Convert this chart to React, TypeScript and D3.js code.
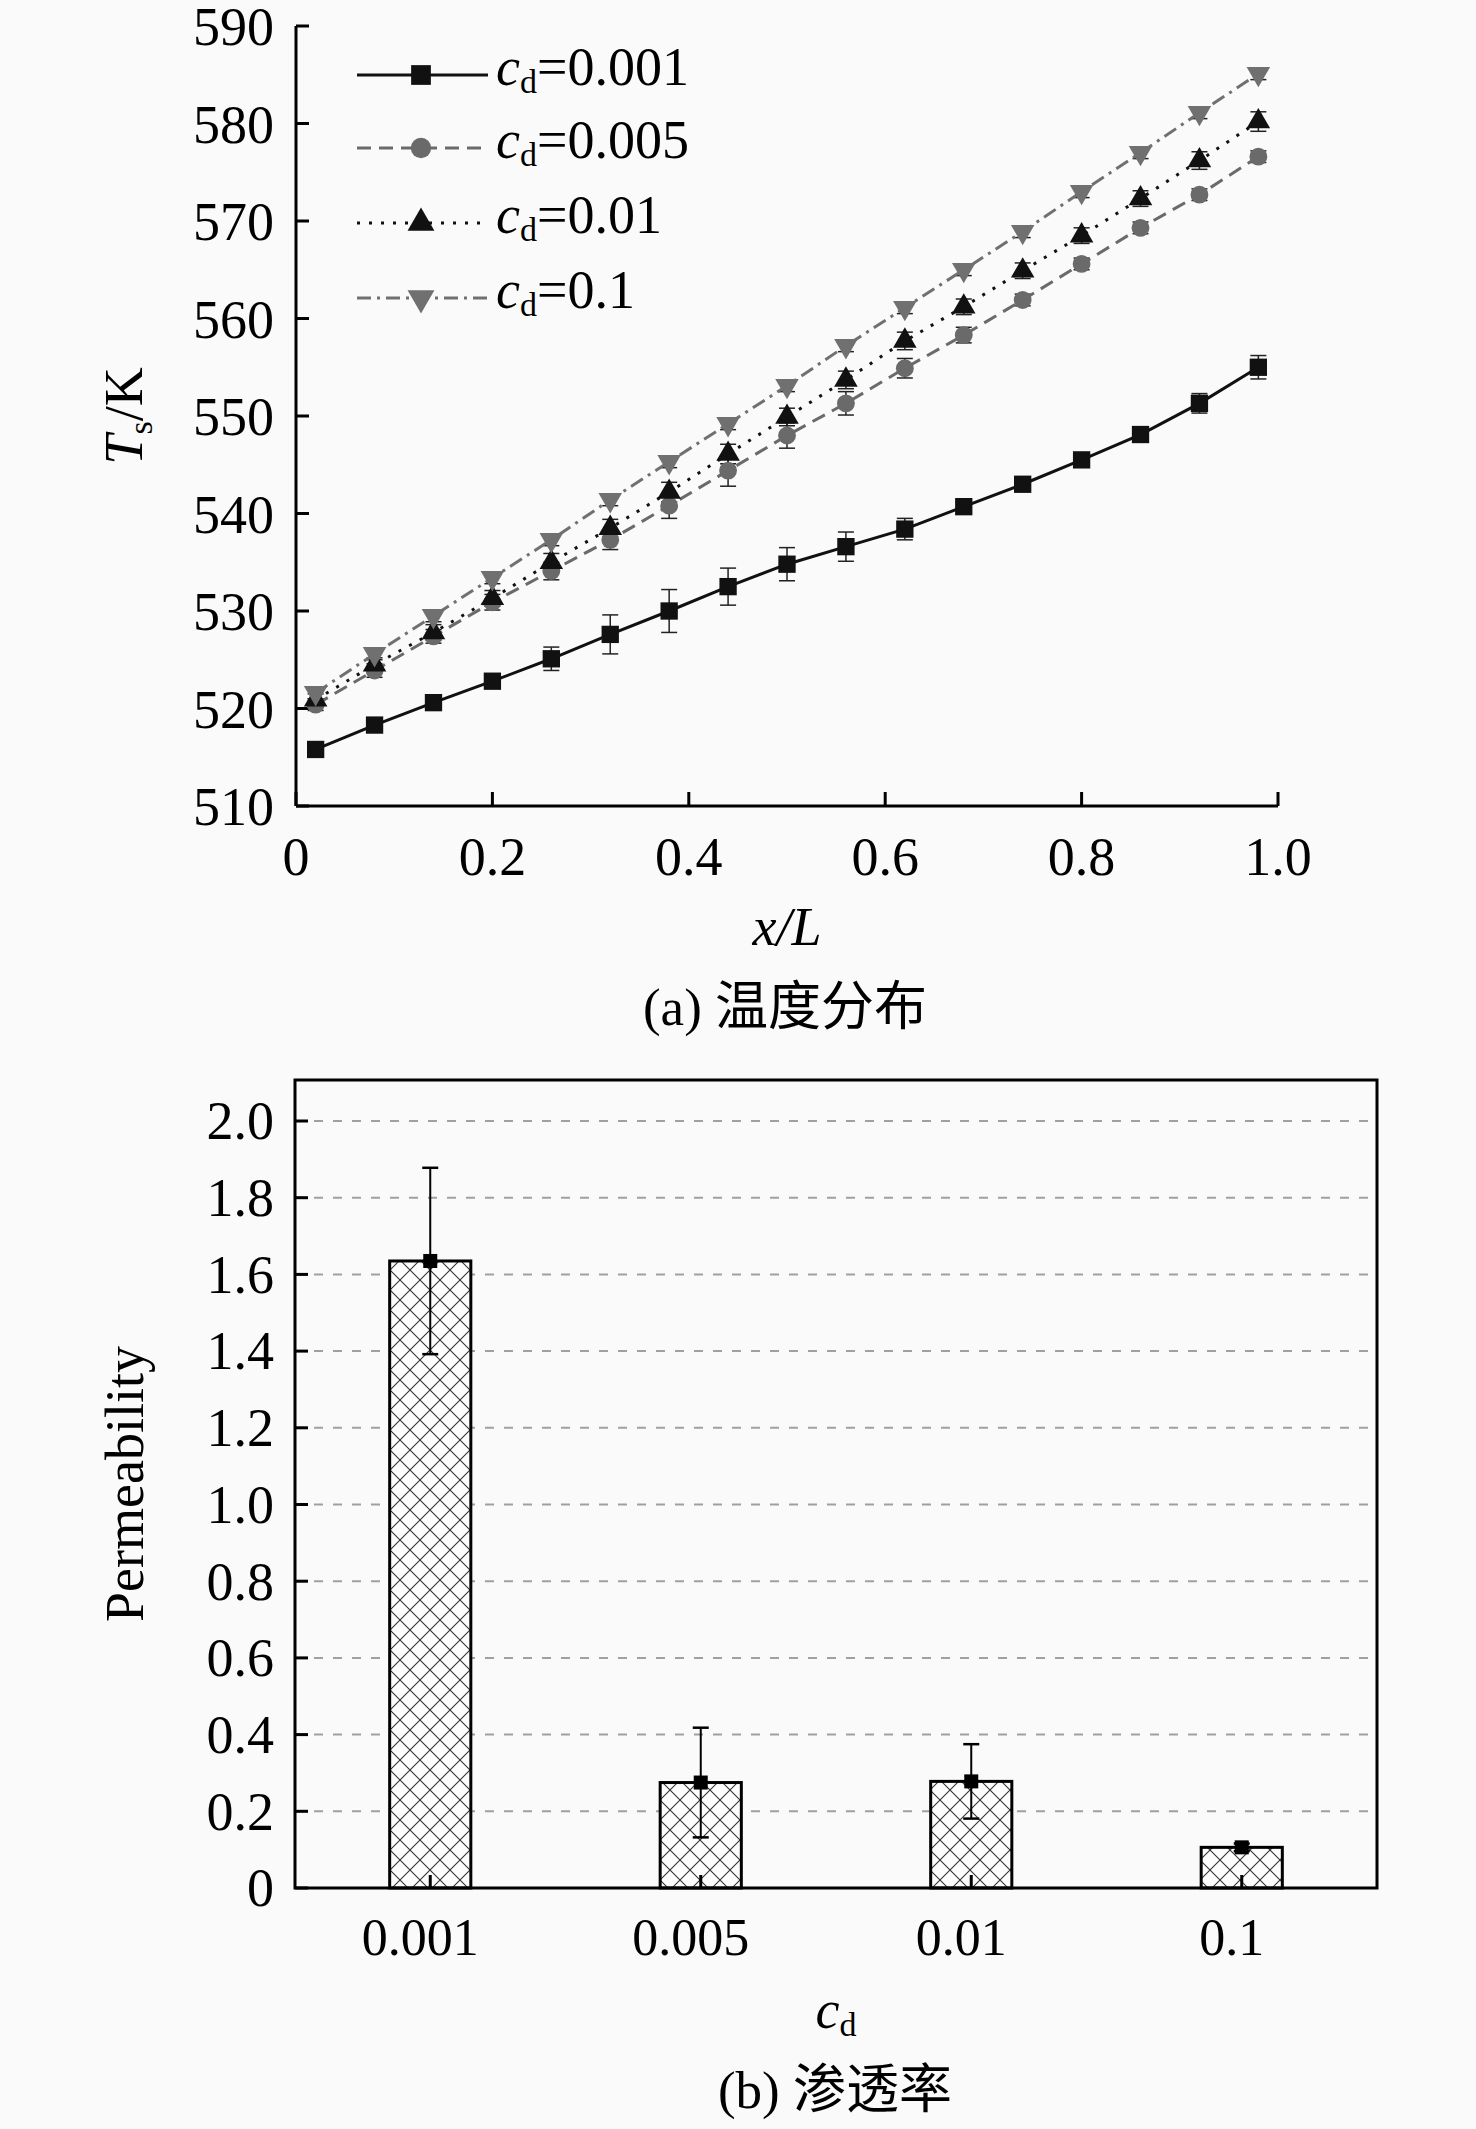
import React, { useEffect, useRef } from "react";
import * as d3 from "d3";

// (a) surface temperature along x/L
const xPos = [0.02, 0.08, 0.14, 0.2, 0.26, 0.32, 0.38, 0.44, 0.5, 0.56, 0.62, 0.68, 0.74, 0.8, 0.86, 0.92, 0.98];

const tempCd0001 = [515.8, 518.3, 520.6, 522.8, 525.1, 527.6, 530.0, 532.5, 534.8, 536.6, 538.4, 540.7, 543.0, 545.5, 548.1, 551.3, 555.0];
const errCd0001 = [0.4, 0.4, 0.4, 0.4, 1.2, 2.0, 2.2, 1.9, 1.7, 1.5, 1.1, 0.5, 0.5, 0.5, 0.5, 1.0, 1.2];

const tempCd0005 = [520.4, 523.9, 527.4, 530.9, 534.1, 537.3, 540.8, 544.4, 548.0, 551.3, 554.9, 558.3, 561.9, 565.6, 569.3, 572.7, 576.6];
const errCd0005 = [0.6, 0.7, 0.7, 0.8, 0.9, 1.0, 1.3, 1.6, 1.3, 1.2, 1.0, 0.8, 0.6, 0.6, 0.6, 0.6, 0.6];

const tempCd001 = [520.9, 524.5, 527.8, 531.3, 535.0, 538.5, 542.2, 546.1, 549.9, 553.7, 557.7, 561.2, 564.9, 568.5, 572.3, 576.2, 580.2];
const errCd001 = [0.6, 0.7, 0.8, 0.8, 0.9, 0.9, 1.0, 1.0, 0.9, 0.9, 0.9, 0.8, 0.8, 0.8, 0.8, 0.9, 1.0];

const tempCd01 = [521.6, 525.6, 529.5, 533.4, 537.3, 541.4, 545.3, 549.2, 553.1, 557.2, 561.1, 565.0, 568.9, 573.0, 577.0, 581.1, 585.1];
const errCd01 = [0.6, 0.6, 0.6, 0.6, 0.6, 0.6, 0.6, 0.6, 0.6, 0.6, 0.6, 0.6, 0.6, 0.6, 0.6, 0.6, 0.6];

const legendLabels = ["=0.001", "=0.005", "=0.01", "=0.1"];
const xTicksA = [0, 0.2, 0.4, 0.6, 0.8, 1.0];
const yTicksA = [510, 520, 530, 540, 550, 560, 570, 580, 590];

// (b) permeability per c_d
const cdCategories = ["0.001", "0.005", "0.01", "0.1"];
const permeability = [1.635, 0.275, 0.278, 0.106];
const permErr = [0.243, 0.143, 0.097, 0.01];
const yTicksB = [0, 0.2, 0.4, 0.6, 0.8, 1.0, 1.2, 1.4, 1.6, 1.8, 2.0];

const W = 1476;
const H = 2129;
const FONT = "'Liberation Serif', 'Times New Roman', 'Noto Sans CJK SC', serif";

const App: React.FC = () => {
  const svgRef = useRef<SVGSVGElement | null>(null);

  useEffect(() => {
    if (!svgRef.current) return;
    const svg = d3.select(svgRef.current);
    svg.selectAll("*").remove();

    svg.append("rect").attr("width", W).attr("height", H).attr("fill", "#fafafa");

    const defs = svg.append("defs");
    const pat = defs
      .append("pattern")
      .attr("id", "hatch")
      .attr("patternUnits", "userSpaceOnUse")
      .attr("width", 20)
      .attr("height", 20);
    pat.append("rect").attr("width", 20).attr("height", 20).attr("fill", "#fdfdfd");
    pat
      .append("path")
      .attr("d", "M0,0 L20,20 M20,0 L0,20")
      .attr("stroke", "#333")
      .attr("stroke-width", 1.1);

    // ---------- chart (a) ----------
    const a = { left: 296, right: 1278, top: 26, bottom: 806 };
    const xA = d3.scaleLinear().domain([0, 1]).range([a.left, a.right]);
    const yA = d3.scaleLinear().domain([510, 590]).range([a.bottom, a.top]);
    const gA = svg.append("g").attr("font-family", FONT);

    const series = [
      { vals: tempCd0001, errs: errCd0001, color: "#111", dash: null as string | null, symbol: d3.symbolSquare, size: 300, rot: 0 },
      { vals: tempCd0005, errs: errCd0005, color: "#6a6a6a", dash: "14,8", symbol: d3.symbolCircle, size: 250, rot: 0 },
      { vals: tempCd001, errs: errCd001, color: "#111", dash: "3,9", symbol: d3.symbolTriangle, size: 240, rot: 0 },
      { vals: tempCd01, errs: errCd01, color: "#707070", dash: "14,6,3,6", symbol: d3.symbolTriangle, size: 240, rot: 180 },
    ];

    // axes
    gA.append("line")
      .attr("x1", a.left).attr("x2", a.left).attr("y1", a.top).attr("y2", a.bottom)
      .attr("stroke", "#000").attr("stroke-width", 3);
    gA.append("line")
      .attr("x1", a.left).attr("x2", a.right).attr("y1", a.bottom).attr("y2", a.bottom)
      .attr("stroke", "#000").attr("stroke-width", 3);

    gA.selectAll(".ytA")
      .data(yTicksA)
      .enter()
      .append("line")
      .attr("x1", a.left).attr("x2", a.left + 13)
      .attr("y1", (d) => yA(d)).attr("y2", (d) => yA(d))
      .attr("stroke", "#000").attr("stroke-width", 3);
    gA.selectAll(".ylA")
      .data(yTicksA)
      .enter()
      .append("text")
      .attr("x", 274)
      .attr("y", (d) => yA(d))
      .attr("dy", "0.36em")
      .attr("text-anchor", "end")
      .attr("font-size", 54)
      .text((d) => d.toString());

    gA.selectAll(".xtA")
      .data(xTicksA)
      .enter()
      .append("line")
      .attr("x1", (d) => xA(d)).attr("x2", (d) => xA(d))
      .attr("y1", a.bottom).attr("y2", a.bottom - 14)
      .attr("stroke", "#000").attr("stroke-width", 3);
    gA.selectAll(".xlA")
      .data(xTicksA)
      .enter()
      .append("text")
      .attr("x", (d) => xA(d))
      .attr("y", 875)
      .attr("text-anchor", "middle")
      .attr("font-size", 54)
      .text((d) => (d === 0 ? "0" : d.toFixed(1)));

    // error bars
    series.forEach((s) => {
      const eg = gA.append("g").attr("stroke", "#222").attr("stroke-width", 1.5);
      xPos.forEach((x, i) => {
        const cx = xA(x);
        const y1 = yA(s.vals[i] + s.errs[i]);
        const y2 = yA(s.vals[i] - s.errs[i]);
        eg.append("line").attr("x1", cx).attr("x2", cx).attr("y1", y1).attr("y2", y2);
        eg.append("line").attr("x1", cx - 8).attr("x2", cx + 8).attr("y1", y1).attr("y2", y1);
        eg.append("line").attr("x1", cx - 8).attr("x2", cx + 8).attr("y1", y2).attr("y2", y2);
      });
    });

    const line = d3
      .line<number>()
      .x((_, i) => xA(xPos[i]))
      .y((d) => yA(d));

    series.forEach((s) => {
      gA.append("path")
        .datum(s.vals)
        .attr("fill", "none")
        .attr("stroke", s.color)
        .attr("stroke-width", 3)
        .attr("stroke-dasharray", s.dash)
        .attr("d", line);
    });

    series.forEach((s) => {
      const sym = d3.symbol().type(s.symbol).size(s.size);
      gA.selectAll(null)
        .data(s.vals)
        .enter()
        .append("path")
        .attr("d", sym() as string)
        .attr("fill", s.color)
        .attr("transform", (d, i) => `translate(${xA(xPos[i])},${yA(d)}) rotate(${s.rot})`);
    });

    // legend
    const legendY = [75, 148, 223, 298];
    series.forEach((s, i) => {
      const ly = legendY[i];
      gA.append("line")
        .attr("x1", 357).attr("x2", 488).attr("y1", ly).attr("y2", ly)
        .attr("stroke", s.color).attr("stroke-width", 3)
        .attr("stroke-dasharray", s.dash);
      const sym = d3.symbol().type(s.symbol).size(s.size * 1.3);
      gA.append("path")
        .attr("d", sym() as string)
        .attr("fill", s.color)
        .attr("transform", `translate(421,${ly}) rotate(${s.rot})`);
      const t = gA.append("text").attr("x", 496).attr("y", ly + 10).attr("font-size", 54);
      t.append("tspan").attr("font-style", "italic").text("c");
      t.append("tspan").attr("font-size", 34).attr("dy", 8).text("d");
      t.append("tspan").attr("dy", -8).text(legendLabels[i]);
    });

    // axis titles
    const yt = gA
      .append("text")
      .attr("transform", `translate(142,416) rotate(-90)`)
      .attr("text-anchor", "middle")
      .attr("font-size", 54);
    yt.append("tspan").attr("font-style", "italic").text("T");
    yt.append("tspan").attr("font-size", 34).attr("dy", 10).text("s");
    yt.append("tspan").attr("dy", -10).text("/K");

    gA.append("text")
      .attr("x", 787).attr("y", 945)
      .attr("text-anchor", "middle")
      .attr("font-size", 54)
      .attr("font-style", "italic")
      .text("x/L");

    gA.append("text")
      .attr("x", 785).attr("y", 1025)
      .attr("text-anchor", "middle")
      .attr("font-size", 53)
      .text("(a) 温度分布");

    // ---------- chart (b) ----------
    const b = { left: 295, right: 1377, top: 1080, bottom: 1888 };
    const xB = d3.scaleBand().domain(cdCategories).range([b.left, b.right]).paddingInner(0.7).paddingOuter(0.35);
    const yB = d3.scaleLinear().domain([0, 2.0]).range([b.bottom, 1121]);
    const gB = svg.append("g").attr("font-family", FONT);

    gB.selectAll(".gridB")
      .data(yTicksB.filter((d) => d > 0))
      .enter()
      .append("line")
      .attr("x1", b.left).attr("x2", b.right)
      .attr("y1", (d) => yB(d)).attr("y2", (d) => yB(d))
      .attr("stroke", "#a0a0a0").attr("stroke-width", 2)
      .attr("stroke-dasharray", "9,10");

    gB.selectAll(".barB")
      .data(permeability)
      .enter()
      .append("rect")
      .attr("x", (_, i) => xB(cdCategories[i]) as number)
      .attr("width", xB.bandwidth())
      .attr("y", (d) => yB(d))
      .attr("height", (d) => b.bottom - yB(d))
      .attr("fill", "url(#hatch)")
      .attr("stroke", "#000")
      .attr("stroke-width", 3);

    // frame
    gB.append("rect")
      .attr("x", b.left).attr("y", b.top)
      .attr("width", b.right - b.left).attr("height", b.bottom - b.top)
      .attr("fill", "none").attr("stroke", "#000").attr("stroke-width", 3);

    gB.selectAll(".ytB")
      .data(yTicksB)
      .enter()
      .append("line")
      .attr("x1", b.left).attr("x2", b.left + 13)
      .attr("y1", (d) => yB(d)).attr("y2", (d) => yB(d))
      .attr("stroke", "#000").attr("stroke-width", 3);
    gB.selectAll(".ylB")
      .data(yTicksB)
      .enter()
      .append("text")
      .attr("x", 274)
      .attr("y", (d) => yB(d))
      .attr("dy", "0.34em")
      .attr("text-anchor", "end")
      .attr("font-size", 54)
      .text((d) => (d === 0 ? "0" : d.toFixed(1)));

    const center = (i: number) => (xB(cdCategories[i]) as number) + xB.bandwidth() / 2;

    gB.selectAll(".xtB")
      .data(cdCategories)
      .enter()
      .append("line")
      .attr("x1", (_, i) => center(i)).attr("x2", (_, i) => center(i))
      .attr("y1", b.bottom).attr("y2", b.bottom - 13)
      .attr("stroke", "#000").attr("stroke-width", 3);
    gB.selectAll(".xlB")
      .data(cdCategories)
      .enter()
      .append("text")
      .attr("x", (_, i) => center(i) - 10)
      .attr("y", 1955)
      .attr("text-anchor", "middle")
      .attr("font-size", 52)
      .text((d) => d);

    // error bars + markers
    permeability.forEach((v, i) => {
      const cx = center(i);
      const y1 = yB(v + permErr[i]);
      const y2 = yB(v - permErr[i]);
      gB.append("line").attr("x1", cx).attr("x2", cx).attr("y1", y1).attr("y2", y2)
        .attr("stroke", "#000").attr("stroke-width", 2);
      [y1, y2].forEach((yy) =>
        gB.append("line").attr("x1", cx - 8).attr("x2", cx + 8).attr("y1", yy).attr("y2", yy)
          .attr("stroke", "#000").attr("stroke-width", 2.5)
      );
      gB.append("rect")
        .attr("x", cx - 7).attr("y", yB(v) - 7).attr("width", 14).attr("height", 14)
        .attr("fill", "#000");
    });

    gB.append("text")
      .attr("transform", `translate(143,1484) rotate(-90)`)
      .attr("text-anchor", "middle")
      .attr("font-size", 54)
      .text("Permeability");

    const cl = gB.append("text").attr("x", 836).attr("y", 2028).attr("text-anchor", "middle").attr("font-size", 54);
    cl.append("tspan").attr("font-style", "italic").text("c");
    cl.append("tspan").attr("font-size", 34).attr("dy", 8).text("d");

    gB.append("text")
      .attr("x", 835).attr("y", 2108)
      .attr("text-anchor", "middle")
      .attr("font-size", 53)
      .text("(b) 渗透率");
  }, []);

  return (
    <div style={{ position: "absolute", left: 0, top: 0 }}>
      <svg ref={svgRef} width={W} height={H} style={{ display: "block" }} />
    </div>
  );
};

export default App;
